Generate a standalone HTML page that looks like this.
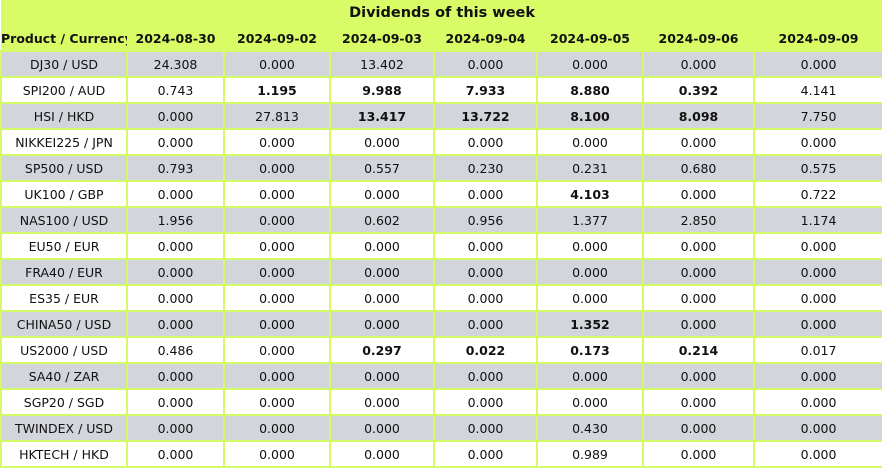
<!DOCTYPE html>
<html><head><meta charset="utf-8"><style>
html,body{margin:0;padding:0;background:#fff;width:882px;height:469px;overflow:hidden}
table{border-collapse:collapse;table-layout:fixed;width:882px;font-family:"DejaVu Sans","Liberation Sans",sans-serif;font-size:12.5px;color:#111}
td,th{height:24px;padding:0;text-align:center;border:2px solid #d4fa66;white-space:nowrap;overflow:hidden}
.title td{background:#d9fb66;font-weight:bold;font-size:14.5px;border:none;height:26px}
.head th{background:#d9fb66;font-weight:bold;font-size:12.5px;border-top:none;border-left:none;border-right:none}
tr.g td{background:#d3d5dc}
tr.w td{background:#fff}
b{font-weight:bold}
</style></head><body>
<table>
<colgroup><col style="width:126px"><col style="width:97px"><col style="width:106px"><col style="width:104px"><col style="width:103px"><col style="width:106px"><col style="width:111px"><col style="width:129px"></colgroup>
<tr class="title"><td colspan="8">Dividends of this week</td></tr>
<tr class="head"><th>Product / Currency</th><th>2024-08-30</th><th>2024-09-02</th><th>2024-09-03</th><th>2024-09-04</th><th>2024-09-05</th><th>2024-09-06</th><th>2024-09-09</th></tr>
<tbody id="tb"></tbody>
</table>
<script>
const products=["DJ30 / USD","SPI200 / AUD","HSI / HKD","NIKKEI225 / JPN","SP500 / USD","UK100 / GBP","NAS100 / USD","EU50 / EUR","FRA40 / EUR","ES35 / EUR","CHINA50 / USD","US2000 / USD","SA40 / ZAR","SGP20 / SGD","TWINDEX / USD","HKTECH / HKD"];
const values=[
["24.308","0.000","13.402","0.000","0.000","0.000","0.000"],
["0.743","*1.195","*9.988","*7.933","*8.880","*0.392","4.141"],
["0.000","27.813","*13.417","*13.722","*8.100","*8.098","7.750"],
["0.000","0.000","0.000","0.000","0.000","0.000","0.000"],
["0.793","0.000","0.557","0.230","0.231","0.680","0.575"],
["0.000","0.000","0.000","0.000","*4.103","0.000","0.722"],
["1.956","0.000","0.602","0.956","1.377","2.850","1.174"],
["0.000","0.000","0.000","0.000","0.000","0.000","0.000"],
["0.000","0.000","0.000","0.000","0.000","0.000","0.000"],
["0.000","0.000","0.000","0.000","0.000","0.000","0.000"],
["0.000","0.000","0.000","0.000","*1.352","0.000","0.000"],
["0.486","0.000","*0.297","*0.022","*0.173","*0.214","0.017"],
["0.000","0.000","0.000","0.000","0.000","0.000","0.000"],
["0.000","0.000","0.000","0.000","0.000","0.000","0.000"],
["0.000","0.000","0.000","0.000","0.430","0.000","0.000"],
["0.000","0.000","0.000","0.000","0.989","0.000","0.000"]];
const tb=document.getElementById('tb');
products.forEach((p,i)=>{
  const tr=document.createElement('tr');
  tr.className=i%2===0?'g':'w';
  
  
  const td=document.createElement('td');
  td.textContent=p;
  
  
  tr.appendChild(td);
  values[i].forEach(v=>{
    const c=document.createElement('td');
    
    
    if(v[0]==='*'){c.style.fontWeight='bold';c.textContent=v.slice(1);}else c.textContent=v;
    tr.appendChild(c);
  });
  tb.appendChild(tr);
});
</script>
</body></html>
